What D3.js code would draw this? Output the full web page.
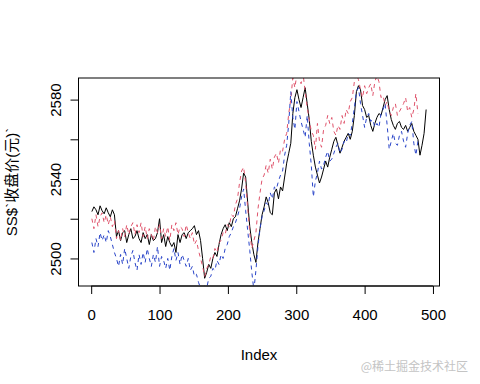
<!DOCTYPE html>
<html lang="zh">
<meta charset="utf-8">
<title>SS 收盘价</title>
<style>
	body {
	    margin: 0;
	    background: #fff;
	    font-family: "Liberation Sans", Arial, sans-serif;
	}
	.tick text {
	    font-size: 15px;
	    fill: #000;
	}
	.label {
	    font-size: 15px;
	    fill: #000;
	}
	.wm {
	    font-family: "Noto Sans CJK SC", sans-serif;
	    font-size: 12px;
	    fill: #c4c4c4;
	}
</style>
<body>
<script src="https://cdn.jsdelivr.net/npm/d3@7/dist/d3.min.js"></script>
<svg class="chart"></svg>
<script>
	// closing price, index 1,4,7,...,490
	var close = [
		2523.6, 2526, 2524.5, 2522, 2526.5, 2524, 2522.5, 2525.5, 2523, 2521, 2524.5, 2522,
		2511, 2514, 2509, 2513, 2514, 2508, 2512, 2515, 2510, 2511, 2514, 2510,
		2508, 2513, 2510, 2512, 2507, 2512, 2509, 2510, 2513, 2520, 2508, 2512,
		2506, 2511, 2508, 2506, 2508, 2503, 2512, 2508, 2512, 2513, 2510, 2513,
		2514, 2515, 2516.5, 2512, 2514, 2509, 2500, 2490, 2493, 2497, 2495, 2500,
		2503, 2501, 2507, 2512, 2515, 2517, 2514, 2518, 2516, 2520, 2521, 2525,
		2529, 2535, 2543, 2541, 2528, 2516, 2508, 2502, 2498, 2508, 2515, 2522,
		2526, 2531, 2528, 2523, 2522, 2533, 2535, 2530, 2536, 2534, 2541, 2548,
		2553, 2558, 2573, 2581, 2585, 2580, 2576, 2581, 2586, 2578, 2570, 2559,
		2552, 2546, 2542, 2538, 2541, 2545, 2549, 2546, 2551, 2555, 2559, 2561,
		2557, 2553, 2556, 2559, 2561, 2563, 2560, 2564, 2572, 2584, 2587, 2585,
		2577, 2575, 2571, 2572, 2567, 2564, 2568, 2571, 2573, 2572, 2576, 2580,
		2582, 2575, 2570, 2567, 2565, 2568, 2569, 2566, 2565, 2567, 2564, 2566,
		2568, 2564, 2562, 2560, 2552, 2557, 2563, 2575
	];

	// red dashed series, index 1,4,...,478
	var upper = [
		2520, 2515, 2522, 2516, 2521, 2523, 2518, 2522, 2517, 2521, 2516, 2519,
		2510, 2514, 2509, 2515, 2511, 2517, 2512, 2516, 2518, 2512, 2517, 2513,
		2518, 2511, 2516, 2510, 2515, 2512, 2509, 2516, 2513, 2517, 2510, 2515,
		2511, 2516, 2509, 2517, 2514, 2518, 2512, 2516, 2515, 2511, 2517, 2513,
		2510, 2513, 2507, 2509, 2504, 2500, 2496, 2491, 2495, 2497, 2501, 2500,
		2505, 2503, 2508, 2509, 2513, 2512, 2517, 2516, 2522, 2521, 2527, 2530,
		2538, 2544, 2546, 2538, 2525, 2513, 2505, 2509, 2513, 2525, 2533, 2540,
		2542, 2547, 2543, 2550, 2545, 2551, 2553, 2548, 2555, 2554, 2560, 2563,
		2573, 2580, 2591, 2586, 2593, 2594, 2588, 2593, 2584, 2576, 2570, 2564,
		2562, 2555, 2568, 2559, 2556, 2565, 2567, 2572, 2568, 2571, 2564, 2562,
		2567, 2565, 2572, 2568, 2575, 2573, 2579, 2581, 2589, 2593, 2590, 2585,
		2581, 2587, 2583, 2586, 2588, 2582, 2589, 2592, 2589, 2581, 2582, 2577,
		2579, 2574, 2572, 2576, 2578, 2572, 2574, 2576, 2578, 2581, 2574, 2576,
		2571, 2575, 2583, 2573
	];

	// blue dashed series, index 1,4,...,478
	var lower = [
		2508, 2503, 2510, 2506, 2513, 2509, 2512, 2508, 2514, 2511, 2507, 2503,
		2500, 2496, 2502, 2497, 2505, 2500, 2495, 2501, 2504, 2498, 2494, 2502,
		2497, 2503, 2498, 2505, 2500, 2496, 2502, 2498, 2506, 2496, 2501, 2499,
		2495, 2500, 2494, 2501, 2505, 2499, 2503, 2497, 2502, 2499, 2496, 2500,
		2494, 2496, 2491, 2492, 2488, 2485, 2483, 2486, 2485, 2490, 2491, 2495,
		2494, 2499, 2497, 2502, 2500, 2505, 2507, 2511, 2513, 2516, 2518, 2521,
		2525, 2531, 2535, 2524, 2514, 2504, 2493, 2484, 2494, 2506, 2515, 2521,
		2524, 2528, 2527, 2533, 2530, 2536, 2535, 2539, 2542, 2544, 2552, 2557,
		2568, 2584, 2571, 2565, 2579, 2574, 2569, 2565, 2561, 2572, 2558, 2547,
		2531, 2539, 2543, 2549, 2545, 2547, 2551, 2554, 2549, 2550, 2553, 2556,
		2558, 2553, 2555, 2559, 2558, 2563, 2562, 2568, 2576, 2584, 2586, 2578,
		2572, 2566, 2571, 2573, 2569, 2570, 2566, 2568, 2566, 2573, 2575, 2578,
		2567, 2555, 2559, 2563, 2558, 2557, 2562, 2564, 2559, 2556, 2563, 2567,
		2569, 2558, 2552, 2559
	];

	var xTicks = [0, 100, 200, 300, 400, 500];
	var yTicks = [2500, 2520, 2540, 2560, 2580];
	var yLabels = [2500, 2540, 2580];
	var step = 3;

	var W = 480, H = 384;
	var box = {left: 78.5, right: 439.5, top: 78, bottom: 286};

	var svg = d3.select(".chart")
	    .attr("width", W)
	    .attr("height", H);

	svg.append("rect")
	    .attr("width", W).attr("height", H)
	    .attr("fill", "#fff");

	// R style 4% padding on both axes, limits from the first series
	var n = 1 + (close.length - 1) * step;
	var padX = 0.04 * (n - 1);
	var x = d3.scaleLinear()
	    .domain([1 - padX, n + padX])
	    .range([box.left, box.right]);

	var ext = d3.extent(close);
	var padY = 0.04 * (ext[1] - ext[0]);
	var y = d3.scaleLinear()
	    .domain([ext[0] - padY, ext[1] + padY])
	    .range([box.bottom, box.top]);

	svg.append("clipPath")
	    .attr("id", "plotclip")
	  .append("rect")
	    .attr("x", box.left).attr("y", box.top)
	    .attr("width", box.right - box.left)
	    .attr("height", box.bottom - box.top);

	var line = d3.line()
	    .x(function(d, i) { return x(1 + i * step); })
	    .y(function(d) { return y(d); });

	var g = svg.append("g").attr("clip-path", "url(#plotclip)");

	g.append("path")
	    .datum(close)
	    .attr("fill", "none")
	    .attr("stroke", "#000")
	    .attr("stroke-width", 1)
	    .attr("d", line);

	g.append("path")
	    .datum(upper)
	    .attr("fill", "none")
	    .attr("stroke", "#DF536B")
	    .attr("stroke-width", 1)
	    .attr("stroke-dasharray", "4,4")
	    .attr("d", line);

	g.append("path")
	    .datum(lower)
	    .attr("fill", "none")
	    .attr("stroke", "#2a45c8")
	    .attr("stroke-width", 1)
	    .attr("stroke-dasharray", "4,4")
	    .attr("d", line);

	// box
	svg.append("rect")
	    .attr("x", box.left).attr("y", box.top)
	    .attr("width", box.right - box.left)
	    .attr("height", box.bottom - box.top)
	    .attr("fill", "none")
	    .attr("stroke", "#000");

	// x axis
	var xAxis = svg.append("g")
	    .attr("transform", "translate(0," + box.bottom + ")")
	    .call(d3.axisBottom(x).tickValues(xTicks).tickSize(8).tickPadding(15));
	xAxis.select(".domain")
	    .attr("d", "M" + x(0) + ",0H" + x(500));
	xAxis.selectAll("text").attr("font-family", null);

	// y axis, only some ticks get labels (like R dropping overlaps)
	var yAxis = svg.append("g")
	    .attr("transform", "translate(" + box.left + ",0)")
	    .call(d3.axisLeft(y).tickValues(yTicks).tickSize(8)
	        .tickFormat(function(d) { return yLabels.indexOf(d) >= 0 ? d : ""; }));
	yAxis.select(".domain")
	    .attr("d", "M0," + y(2500) + "V" + y(2580));
	yAxis.selectAll(".tick text")
	    .attr("font-family", null)
	    .attr("x", null)
	    .attr("text-anchor", "middle")
	    .attr("transform", "translate(-23,0) rotate(-90)")
	    .attr("y", 0)
	    .attr("dy", "0.35em");

	svg.append("text")
	    .attr("class", "label")
	    .attr("text-anchor", "middle")
	    .attr("x", (box.left + box.right) / 2)
	    .attr("y", 360)
	    .text("Index");

	svg.append("text")
	    .attr("class", "label")
	    .attr("text-anchor", "middle")
	    .attr("transform", "translate(17," + ((box.top + box.bottom) / 2) + ") rotate(-90)")
	    .style("font-family", "'Liberation Sans', 'Noto Sans CJK SC', sans-serif")
	    .text("SS$`收盘价(元)`");

	svg.append("text")
	    .attr("class", "wm")
	    .attr("text-anchor", "end")
	    .attr("x", 468)
	    .attr("y", 371)
	    .text("@稀土掘金技术社区");
</script>
</body>
</html>
